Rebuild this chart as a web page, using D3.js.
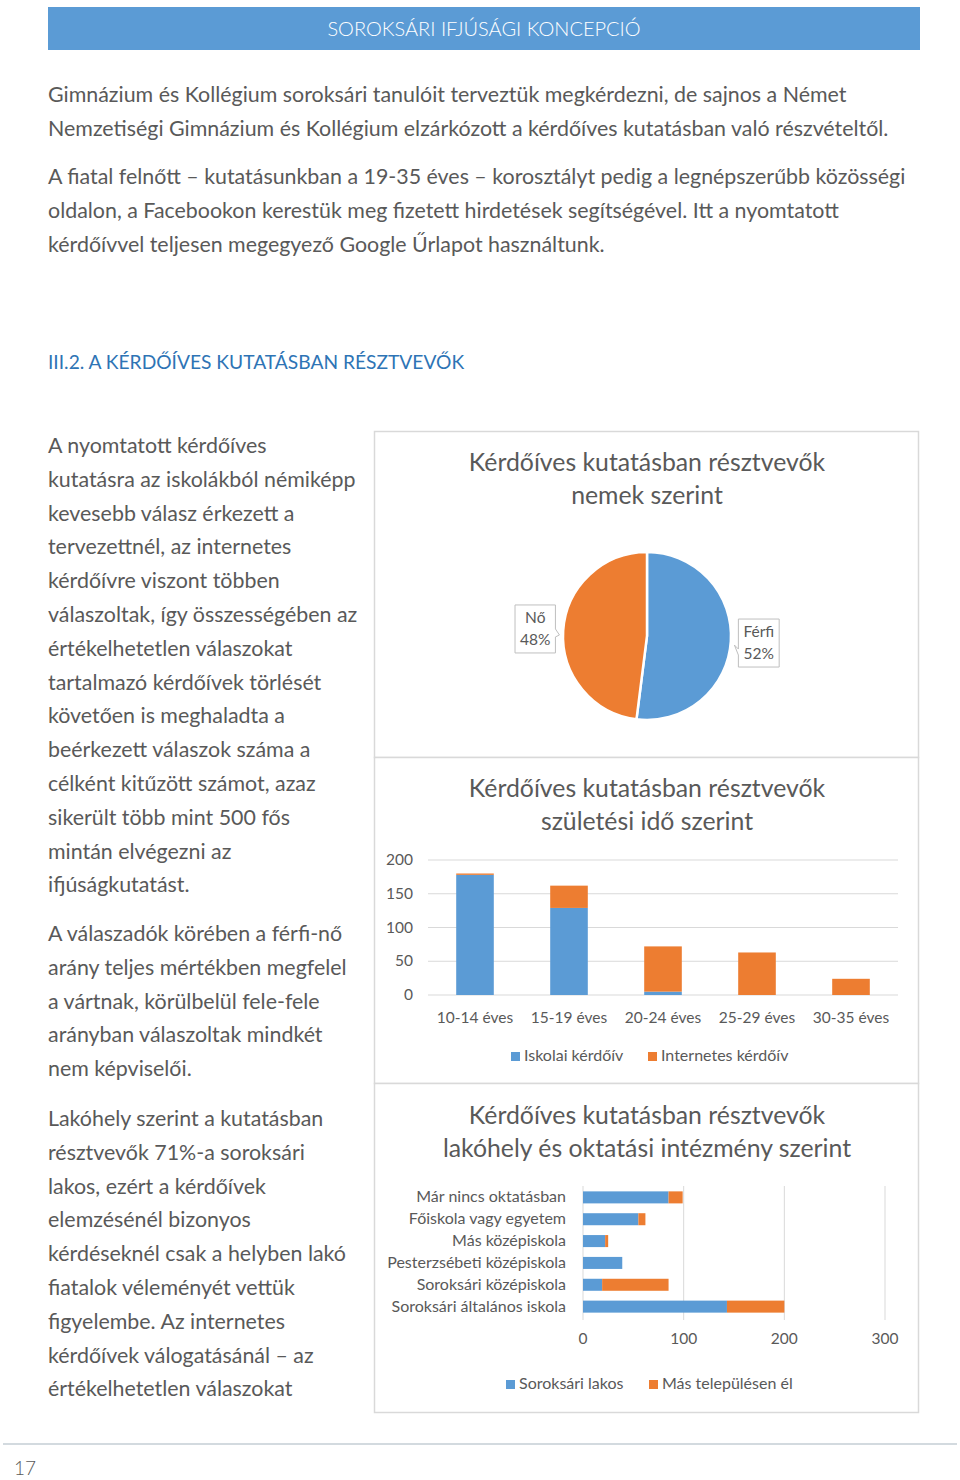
<!DOCTYPE html>
<html>
<head>
<meta charset="utf-8">
<script src="https://cdn.jsdelivr.net/npm/d3@7"></script>
<style>
  html, body { margin: 0; padding: 0; background: #fff; }
  svg { display: block; font-family: Lato, "Open Sans", sans-serif; }
</style>
</head>
<body>
<div id="page"></div>
<script>
// page texts
const headerTitle = "SOROKSÁRI IFJÚSÁGI KONCEPCIÓ";
const introLines = [
  "Gimnázium és Kollégium soroksári tanulóit terveztük megkérdezni, de sajnos a Német",
  "Nemzetiségi Gimnázium és Kollégium elzárkózott a kérdőíves kutatásban való részvételtől."
];
const introLines2 = [
  "A fiatal felnőtt – kutatásunkban a 19-35 éves – korosztályt pedig a legnépszerűbb közösségi",
  "oldalon, a Facebookon kerestük meg fizetett hirdetések segítségével. Itt a nyomtatott",
  "kérdőívvel teljesen megegyező Google Űrlapot használtunk."
];
const sectionHeading = "III.2. A KÉRDŐÍVES KUTATÁSBAN RÉSZTVEVŐK";
const sideParas = [
  ["A nyomtatott kérdőíves", "kutatásra az iskolákból némiképp", "kevesebb válasz érkezett a",
   "tervezettnél, az internetes", "kérdőívre viszont többen", "válaszoltak, így összességében az",
   "értékelhetetlen válaszokat", "tartalmazó kérdőívek törlését", "követően is meghaladta a",
   "beérkezett válaszok száma a", "célként kitűzött számot, azaz", "sikerült több mint 500 fős",
   "mintán elvégezni az", "ifjúságkutatást."],
  ["A válaszadók körében a férfi-nő", "arány teljes mértékben megfelel", "a vártnak, körülbelül fele-fele",
   "arányban válaszoltak mindkét", "nem képviselői."],
  ["Lakóhely szerint a kutatásban", "résztvevők 71%-a soroksári", "lakos, ezért a kérdőívek",
   "elemzésénél bizonyos", "kérdéseknél csak a helyben lakó", "fiatalok véleményét vettük",
   "figyelembe. Az internetes", "kérdőívek válogatásánál – az", "értékelhetetlen válaszokat"]
];
const pageNumber = "17";

// chart 1: gender
const pieTitle = ["Kérdőíves kutatásban résztvevők", "nemek szerint"];
const genderLabels = ["Férfi", "Nő"];
const genderValues = [52, 48];

// chart 2: age groups
const ageTitle = ["Kérdőíves kutatásban résztvevők", "születési idő szerint"];
const ageGroups = ["10-14 éves", "15-19 éves", "20-24 éves", "25-29 éves", "30-35 éves"];
const schoolSurvey = [178, 129, 5, 0, 0];
const internetSurvey = [2, 33, 67, 63, 24];
const ageTicks = [0, 50, 100, 150, 200];
const ageSeries = ["Iskolai kérdőív", "Internetes kérdőív"];

// chart 3: residence / institution
const instTitle = ["Kérdőíves kutatásban résztvevők", "lakóhely és oktatási intézmény szerint"];
const institutions = ["Már nincs oktatásban", "Főiskola vagy egyetem", "Más középiskola",
  "Pesterzsébeti középiskola", "Soroksári középiskola", "Soroksári általános iskola"];
const localResidents = [85, 55, 22, 39, 19, 143];
const otherResidents = [14, 7, 3, 0, 66, 57];
const instTicks = [0, 100, 200, 300];
const instSeries = ["Soroksári lakos", "Más településen él"];

const BLUE = "#5b9bd5", ORANGE = "#ed7d31", TEXT = "#595959", GRID = "#d9d9d9";
const W = 960, H = 1480;

const svg = d3.select("#page").append("svg").attr("width", W).attr("height", H);

// header band
svg.append("rect").attr("x", 48).attr("y", 7).attr("width", 872).attr("height", 43).attr("fill", BLUE);
svg.append("text").attr("x", 484).attr("y", 36).attr("text-anchor", "middle")
  .attr("fill", "#fff").style("font-size", "20px").style("font-weight", 300).text(headerTitle);

// body text
function lines(arr, x, y0, step, size, color) {
  svg.append("g").selectAll("text").data(arr).enter().append("text")
    .attr("x", x).attr("y", (d, i) => y0 + i * step)
    .attr("fill", color || TEXT).style("font-size", size + "px").text(d => d);
}
lines(introLines, 48, 102, 34, 21.4);
lines(introLines2, 48, 184, 34, 21.4);
lines([sectionHeading], 48, 369, 0, 19.2, "#2e74b5");
lines(sideParas[0], 48, 453, 33.8, 21.4);
lines(sideParas[1], 48, 941, 33.8, 21.4);
lines(sideParas[2], 48, 1126, 33.8, 21.4);

// footer
svg.append("line").attr("x1", 3).attr("x2", 957).attr("y1", 1444).attr("y2", 1444)
  .attr("stroke", "#d3dadf").attr("stroke-width", 2);
svg.append("text").attr("x", 14).attr("y", 1475).attr("fill", TEXT)
  .style("font-size", "19px").style("font-weight", 300).text(pageNumber);

// chart frames
[[431, 326], [757, 326], [1083, 329]].forEach(([y, h]) => {
  svg.append("rect").attr("x", 374.5).attr("y", y + 0.5).attr("width", 544).attr("height", h)
    .attr("fill", "#fff").attr("stroke", GRID).attr("stroke-width", 1.5);
});

function title(arr, y) {
  svg.append("g").selectAll("text").data(arr).enter().append("text")
    .attr("x", 647).attr("y", (d, i) => y + i * 33).attr("text-anchor", "middle")
    .attr("fill", TEXT).style("font-size", "24.8px").text(d => d);
}

// ---------- pie ----------
title(pieTitle, 471);
const pieG = svg.append("g").attr("transform", "translate(647,636)");
const r = 84;
const pie = d3.pie().sort(null)(genderValues);
const arc = d3.arc().innerRadius(0).outerRadius(r);
pieG.selectAll("path").data(pie).enter().append("path")
  .attr("d", arc).attr("fill", (d, i) => i === 0 ? BLUE : ORANGE)
  .attr("stroke", "#fff").attr("stroke-width", 2.5);

const labelArc = d3.arc().innerRadius(112).outerRadius(112);
pie.forEach((d, i) => {
  const [cx, cy] = labelArc.centroid(d);
  const g = pieG.append("g").attr("transform", `translate(${cx},${cy})`);
  const t1 = g.append("text").attr("text-anchor", "middle").attr("y", -6)
    .attr("fill", TEXT).style("font-size", "15.5px").text(genderLabels[i]);
  const t2 = g.append("text").attr("text-anchor", "middle").attr("y", 16)
    .attr("fill", TEXT).style("font-size", "15.5px").text(genderValues[i] + "%");
  const bw = Math.max(t1.node().getComputedTextLength(), t2.node().getComputedTextLength()) + 10;
  const bx = -bw / 2, by = -24, bh = 48;
  // callout box with small pointer toward the pie
  let p;
  if (cx > 0) {
    p = `M${bx},${by} H${-bx} V${by + bh} H${bx} V${by + 36} L${bx - 4},${by + 26} L${bx},${by + 30} Z`;
  } else {
    p = `M${bx},${by} H${-bx} V${by + 24} L${-bx + 4},${by + 30} L${-bx},${by + 32} V${by + bh} H${bx} Z`;
  }
  g.insert("path", "text").attr("d", p).attr("fill", "#fff").attr("stroke", "#bfbfbf").attr("stroke-width", 1);
});

// ---------- stacked columns ----------
title(ageTitle, 797);
const x2 = d3.scaleBand().domain(ageGroups).range([428, 898]).paddingInner(0.6).paddingOuter(0.3);
const y2 = d3.scaleLinear().domain([0, 200]).range([995, 860]);
svg.append("g").selectAll("line").data(ageTicks).enter().append("line")
  .attr("x1", 428).attr("x2", 898).attr("y1", d => y2(d)).attr("y2", d => y2(d))
  .attr("stroke", GRID).attr("stroke-width", 1);
svg.append("g").selectAll("text").data(ageTicks).enter().append("text")
  .attr("x", 413).attr("y", d => y2(d) + 5).attr("text-anchor", "end")
  .attr("fill", TEXT).style("font-size", "15.5px").text(d => d);

const ageRows = ageGroups.map((g, i) => ({ g, school: schoolSurvey[i], internet: internetSurvey[i] }));
const ageStack = d3.stack().keys(["school", "internet"])(ageRows);
svg.append("g").selectAll("g").data(ageStack).enter().append("g")
  .attr("fill", (d, i) => i === 0 ? BLUE : ORANGE)
  .selectAll("rect").data(d => d).enter().append("rect")
  .attr("x", d => x2(d.data.g)).attr("width", x2.bandwidth())
  .attr("y", d => y2(d[1])).attr("height", d => y2(d[0]) - y2(d[1]));
svg.append("g").selectAll("text").data(ageGroups).enter().append("text")
  .attr("x", d => x2(d) + x2.bandwidth() / 2).attr("y", 1023).attr("text-anchor", "middle")
  .attr("fill", TEXT).style("font-size", "15.5px").text(d => d);

function legend(items, xs, y) {
  items.forEach((s, i) => {
    svg.append("rect").attr("x", xs[i]).attr("y", y - 9).attr("width", 9).attr("height", 9)
      .attr("fill", i === 0 ? BLUE : ORANGE);
    svg.append("text").attr("x", xs[i] + 13).attr("y", y).attr("fill", TEXT)
      .style("font-size", "16px").text(s);
  });
}
legend(ageSeries, [511, 648], 1061);

// ---------- horizontal stacked bars ----------
title(instTitle, 1124);
const x3 = d3.scaleLinear().domain([0, 300]).range([583, 885]);
const y3 = d3.scaleBand().domain(institutions).range([1187, 1317]).paddingInner(0.45).paddingOuter(0.2);
svg.append("g").selectAll("line").data(instTicks).enter().append("line")
  .attr("x1", d => x3(d)).attr("x2", d => x3(d)).attr("y1", 1186).attr("y2", 1320)
  .attr("stroke", GRID).attr("stroke-width", 1);
svg.append("g").selectAll("text").data(instTicks).enter().append("text")
  .attr("x", d => x3(d)).attr("y", 1344).attr("text-anchor", "middle")
  .attr("fill", TEXT).style("font-size", "15.5px").text(d => d);

const instRows = institutions.map((g, i) => ({ g, local: localResidents[i], other: otherResidents[i] }));
const instStack = d3.stack().keys(["local", "other"])(instRows);
svg.append("g").selectAll("g").data(instStack).enter().append("g")
  .attr("fill", (d, i) => i === 0 ? BLUE : ORANGE)
  .selectAll("rect").data(d => d).enter().append("rect")
  .attr("y", d => y3(d.data.g)).attr("height", y3.bandwidth())
  .attr("x", d => x3(d[0])).attr("width", d => x3(d[1]) - x3(d[0]));
svg.append("g").selectAll("text").data(institutions).enter().append("text")
  .attr("x", 566).attr("y", d => y3(d) + y3.bandwidth() / 2 + 5).attr("text-anchor", "end")
  .attr("fill", TEXT).style("font-size", "16px").text(d => d);

legend(instSeries, [506, 649], 1389);
</script>
</body>
</html>
